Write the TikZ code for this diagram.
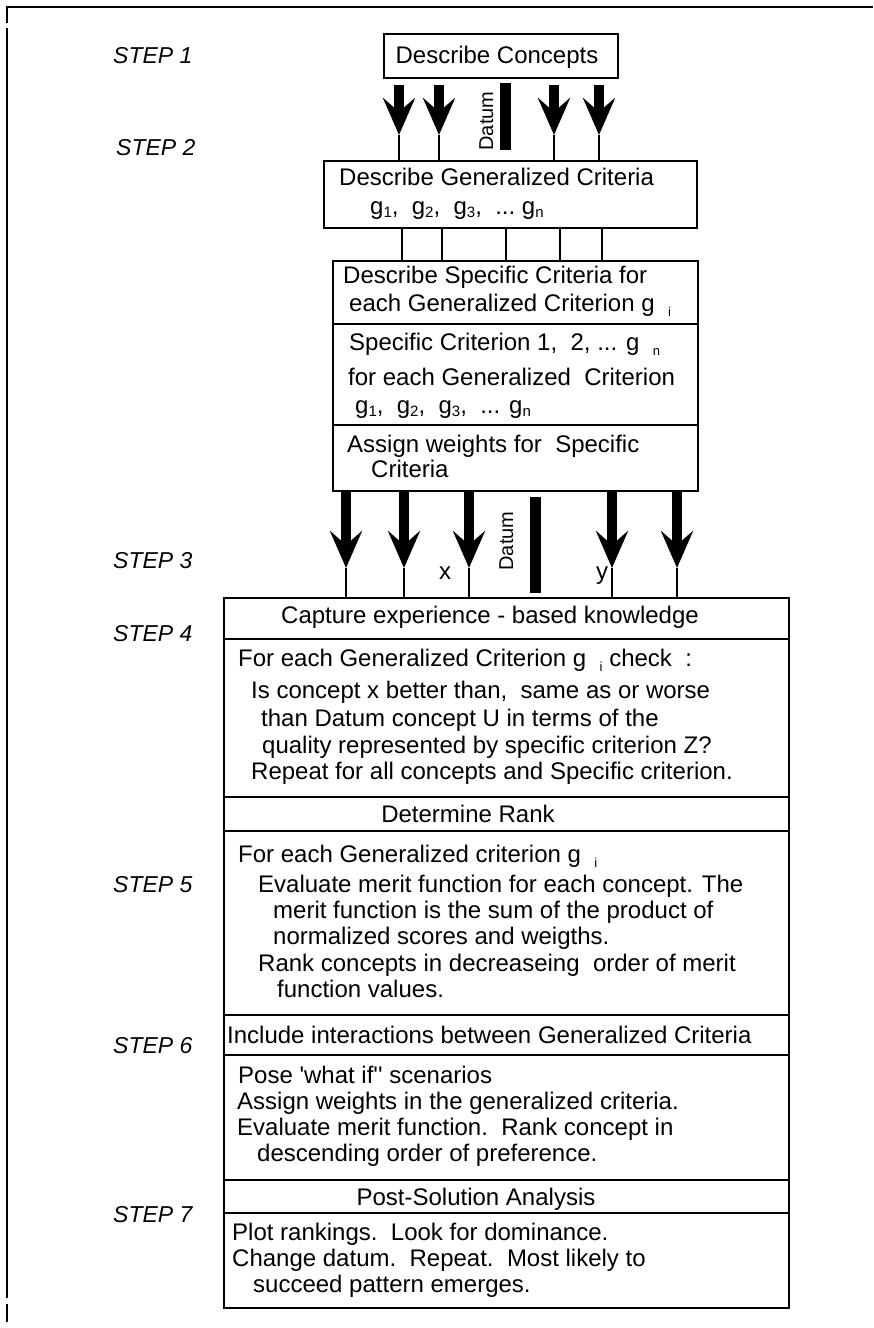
\documentclass[tikz,border=0pt]{standalone}
\usepackage{fontspec}
\setmainfont{Liberation Sans}
\usetikzlibrary{arrows.meta}
% small lowered index digits and letters
\newcommand\lo[1]{\raisebox{-0.25ex}{\fontsize{15}{15}\selectfont #1}}
\newcommand\loi[1]{\raisebox{-0.45ex}{\fontsize{13}{13}\selectfont #1}}
\begin{document}
\begin{tikzpicture}[x=1pt,y=-1pt,
  frame/.style={line width=2.5pt},
  panel/.style={draw, line width=2.2pt, inner sep=0pt, anchor=north west},
  sep/.style={line width=2.2pt},
  txt/.style={anchor=base west, inner sep=0pt, font=\fontsize{24}{28}\selectfont},
  hdr/.style={anchor=base, inner sep=0pt, font=\fontsize{24}{28}\selectfont},
  steplabel/.style={anchor=base west, inner sep=0pt, font=\fontsize{23}{27}\selectfont\itshape},
  shaft/.style={line width=10.5pt, -{Stealth[length=37pt,width=32pt,inset=14pt]}},
  stem/.style={line width=1.3pt},
  bar/.style={fill, inner sep=0pt, minimum width=11pt, anchor=north west},
  datumlbl/.style={rotate=90, anchor=base, inner sep=0pt, font=\fontsize{20}{24}\selectfont},
  small/.style={anchor=base, inner sep=0pt, font=\fontsize{24}{28}\selectfont}]
\useasboundingbox (0,0) rectangle (873,1328);

% page frame
\draw[frame] (7,7) -- (873,7);
\draw[frame] (7,6) -- (7,23);
\draw[frame] (7,28) -- (7,1298);
\draw[frame] (7,1304) -- (7,1322);

% step labels
\node[steplabel] (s1) at (113,63) {STEP 1};
\node[steplabel] (s2) at (116,155) {STEP 2};
\node[steplabel] (s3) at (113,568) {STEP 3};
\node[steplabel] (s4) at (113,641) {STEP 4};
\node[steplabel] (s5) at (113,892) {STEP 5};
\node[steplabel] (s6) at (113,1053) {STEP 6};
\node[steplabel] (s7) at (113,1222) {STEP 7};

% panels
\node[panel, minimum width=234pt, minimum height=44pt] (concepts) at (383,33) {};
\node[panel, minimum width=373pt, minimum height=67pt] (gen) at (323,160) {};
\node[panel, minimum width=365pt, minimum height=230pt] (spec) at (332,260) {};
\node[panel, minimum width=565pt, minimum height=710pt] (big) at (223,597) {};

% row separators
\draw[sep] (332,324) -- (697,324);
\draw[sep] (332,425) -- (697,425);
\foreach \y in {639,797,831,1015,1055,1180,1213}
  \draw[sep] (223,\y) -- (788,\y);

% step 1 -> step 2 arrows
\foreach \x [count=\i] in {399,439,554,599} {
  \coordinate (ta\i) at (\x,135);
  \draw[shaft, shorten <=6pt] (concepts.south -| ta\i) -- (ta\i);
  \draw[stem] (ta\i) -- (gen.north -| ta\i);
}
\node[bar, minimum height=67pt] (datum1) at (500,83) {};
\node[datumlbl] (dl1) at (493,121) {Datum};

% generalized -> specific links
\foreach \x [count=\i] in {402,442,506,560,602} {
  \coordinate (k\i) at (\x,240);
  \draw[stem] (gen.south -| k\i) -- (spec.north -| k\i);
}

% step 3 arrows
\foreach \x [count=\i] in {346,404,469,612,677} {
  \coordinate (tb\i) at (\x,568);
  \draw[shaft] (spec.south -| tb\i) -- (tb\i);
  \draw[stem] (tb\i) -- (big.north -| tb\i);
}
\node[bar, minimum height=96pt] (datum2) at (530,497) {};
\node[datumlbl] (dl2) at (513,541) {Datum};
\node[small] (lx) at (445,579) {x};
\node[small] (ly) at (602,579) {y};

% texts
\node[hdr] (t0) at (497,63) {Describe Concepts};

\node[txt] (g1) at (339,185) {Describe Generalized Criteria};
\node[txt] (g2) at (370,214) {g\lo{1},\ \ g\lo{2},\ \ g\lo{3},\ \ ...\ g\lo{n}};

\node[txt] (p1) at (343,283) {Describe Specific Criteria for};
\node[txt] (p2) at (349,311) {each Generalized Criterion g\ \ \loi{i}};
\node[txt] (p3) at (349,350) {Specific Criterion 1,\ \ 2, ... g\ \ \loi{n}};
\node[txt] (p4) at (348,385) {for each Generalized\ \ Criterion};
\node[txt] (p5) at (355,413) {g\lo{1},\ \ g\lo{2},\ \ g\lo{3},\ \ ... g\lo{n}};
\node[txt] (p6) at (347,452) {Assign weights for\ \ Specific};
\node[txt] (p7) at (371,477) {Criteria};

\node[hdr] (b0) at (490,623) {Capture experience - based knowledge};
\node[txt] (b1) at (238,666) {For each Generalized Criterion g\ \ \loi{i} check\ \ :};
\node[txt] (b2) at (251,698) {Is concept x better than,\ \ same as or worse};
\node[txt] (b3) at (261,726) {than Datum concept U in terms of the};
\node[txt] (b4) at (262,753) {quality represented by specific criterion Z?};
\node[txt] (b5) at (251,779) {Repeat for all concepts and Specific criterion.};

\node[hdr] (r0) at (468,822) {Determine Rank};
\node[txt] (r1) at (238,862) {For each Generalized criterion g\ \ \loi{i}};
\node[txt] (r2) at (258,892) {Evaluate merit function for each concept. The};
\node[txt] (r3) at (273,918) {merit function is the sum of the product of};
\node[txt] (r4) at (273,944) {normalized scores and weigths.};
\node[txt] (r5) at (258,971) {Rank concepts in decreaseing\ \ order of merit};
\node[txt] (r6) at (277,997) {function values.};

\node[txt] (i0) at (227,1043) {Include interactions between Generalized Criteria};
\node[txt] (i1) at (238,1083) {Pose \textquotesingle what if\textquotesingle\textquotesingle\ scenarios};
\node[txt] (i2) at (237,1109) {Assign weights in the generalized criteria.};
\node[txt] (i3) at (237,1135) {Evaluate merit function.\ \ Rank concept in};
\node[txt] (i4) at (257,1161) {descending order of preference.};

\node[hdr] (a0) at (476,1205) {Post-Solution Analysis};
\node[txt] (a1) at (232,1240) {Plot rankings.\ \ Look for dominance.};
\node[txt] (a2) at (232,1266) {Change datum.\ \ Repeat.\ \ Most likely to};
\node[txt] (a3) at (253,1292) {succeed pattern emerges.};
\end{tikzpicture}
\end{document}
